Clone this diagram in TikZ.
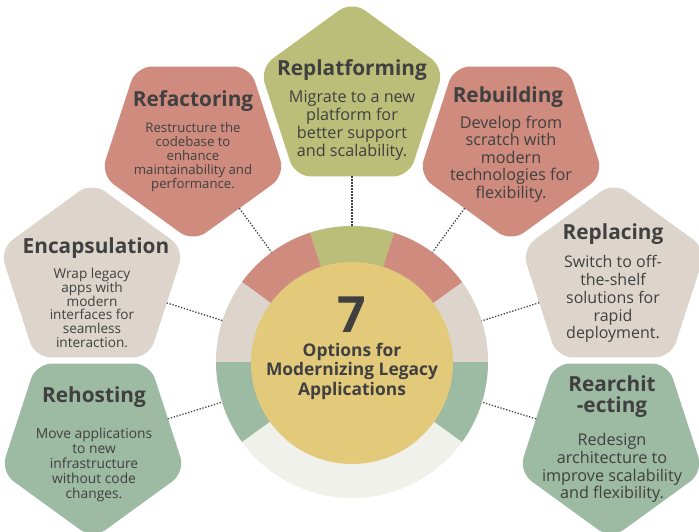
\documentclass[tikz,border=0pt]{standalone}
\usepackage{fontspec}
\setmainfont{Open Sans}
\usetikzlibrary{shapes.geometric,calc}
\definecolor{cred}{HTML}{CF8B7E}
\definecolor{colive}{HTML}{BABE78}
\definecolor{cbeige}{HTML}{DDD5CC}
\definecolor{csage}{HTML}{9DBAA2}
\definecolor{clight}{HTML}{F0F1EA}
\definecolor{cyel}{HTML}{E3C97A}
\definecolor{ctext}{HTML}{404040}
\tikzset{
  pent/.style={regular polygon, regular polygon sides=5, minimum size=194pt,
    inner sep=0pt, outer sep=0pt, rounded corners=16pt, draw=none},
  pdown/.style={pent, shape border rotate=180},
  ttl/.style={text=ctext, align=center, inner sep=0pt, font=\bfseries\fontsize{20.8}{21}\selectfont},
  dsc/.style={text=ctext, align=center, inner sep=0pt},
  conn/.style={draw=ctext, line width=1.3pt, dash pattern=on 1.3pt off 1.7pt},
}
\begin{document}
\begin{tikzpicture}[x=1pt,y=-1pt]
\useasboundingbox (0,0) rectangle (699,531);
\clip (0,0) rectangle (699,531);
\fill[white] (0,0) rectangle (699,531);
% ring
\coordinate (c) at (352,362);
\fill[clight] (c) circle[radius=136];
\fill[cbeige] (c) -- ++(0:136) arc[start angle=0, end angle=-36, radius=136] -- cycle;
\fill[cred] (c) -- ++(-36:136) arc[start angle=-36, end angle=-72, radius=136] -- cycle;
\fill[colive] (c) -- ++(-72:136) arc[start angle=-72, end angle=-108, radius=136] -- cycle;
\fill[cred] (c) -- ++(-108:136) arc[start angle=-108, end angle=-144, radius=136] -- cycle;
\fill[cbeige] (c) -- ++(-144:136) arc[start angle=-144, end angle=-180, radius=136] -- cycle;
\fill[csage] (c) -- ++(-180:136) arc[start angle=-180, end angle=-216, radius=136] -- cycle;
\fill[csage] (c) -- ++(-324:136) arc[start angle=-324, end angle=-360, radius=136] -- cycle;
\node[circle, fill=cyel, minimum size=202pt, inner sep=0pt, outer sep=0pt] (core) at (352,363) {};
\node[text=ctext, inner sep=0pt, font=\bfseries\fontsize{50}{50}\selectfont] (seven) at (352,315) {7};
\node[text=ctext, align=center, inner sep=0pt, font=\bfseries\fontsize{17.4}{19.5}\selectfont] (ctitle) at (352,371) {Options for\\Modernizing Legacy\\Applications};

% pentagons
\node[pdown, fill=cred] (refac) at (193,145) {};
\node[pent, fill=colive] (replat) at (352,98) {};
\node[pdown, fill=cred] (rebuild) at (511,145) {};
\node[pent, fill=cbeige] (encap) at (92,279) {};
\node[pdown, fill=csage] (rehost) at (93,442) {};
\node[pent, fill=cbeige] (replace) at (614,279) {};
\node[pdown, fill=csage] (rearch) at (611,442) {};

% connectors
\foreach \p in {refac,replat,rebuild,encap,rehost,replace,rearch}{
  \draw[conn] (\p) -- ($(c)!136pt!(\p)$);
}

% texts
\node[ttl] (t1) at (193,101) {Refactoring};
\node[dsc, font=\fontsize{13.2}{14}\selectfont] (d1) at (193,157) {Restructure the\\codebase to\\enhance\\maintainability and\\performance.};
\node[ttl] (t2) at (352,70) {Replatforming};
\node[dsc, font=\fontsize{16.2}{18}\selectfont] (d2) at (352,125) {Migrate to a new\\platform for\\better support\\and scalability.};
\node[ttl] (t3) at (508,97) {Rebuilding};
\node[dsc, font=\fontsize{16.2}{17.5}\selectfont] (d3) at (511,159) {Develop from\\scratch with\\modern\\technologies for\\flexibility.};
\node[ttl] (t4) at (96,248) {Encapsulation};
\node[dsc, font=\fontsize{13.6}{13.8}\selectfont] (d4) at (92,308) {Wrap legacy\\apps with\\modern\\interfaces for\\seamless\\interaction.};
\node[ttl] (t5) at (94,397) {Rehosting};
\node[dsc, font=\fontsize{13.8}{15}\selectfont] (d5) at (94,465) {Move applications\\to new\\infrastructure\\without code\\changes.};
\node[ttl] (t6) at (613,234) {Replacing};
\node[dsc, font=\fontsize{16}{17.8}\selectfont] (d6) at (613,299) {Switch to off-\\the-shelf\\solutions for\\rapid\\deployment.};
\node[ttl] (t7) at (612,397) {Rearchit\\-ecting};
\node[dsc, font=\fontsize{16.2}{17.7}\selectfont] (d7) at (612,468) {Redesign\\architecture to\\improve scalability\\and flexibility.};
\end{tikzpicture}
\end{document}
